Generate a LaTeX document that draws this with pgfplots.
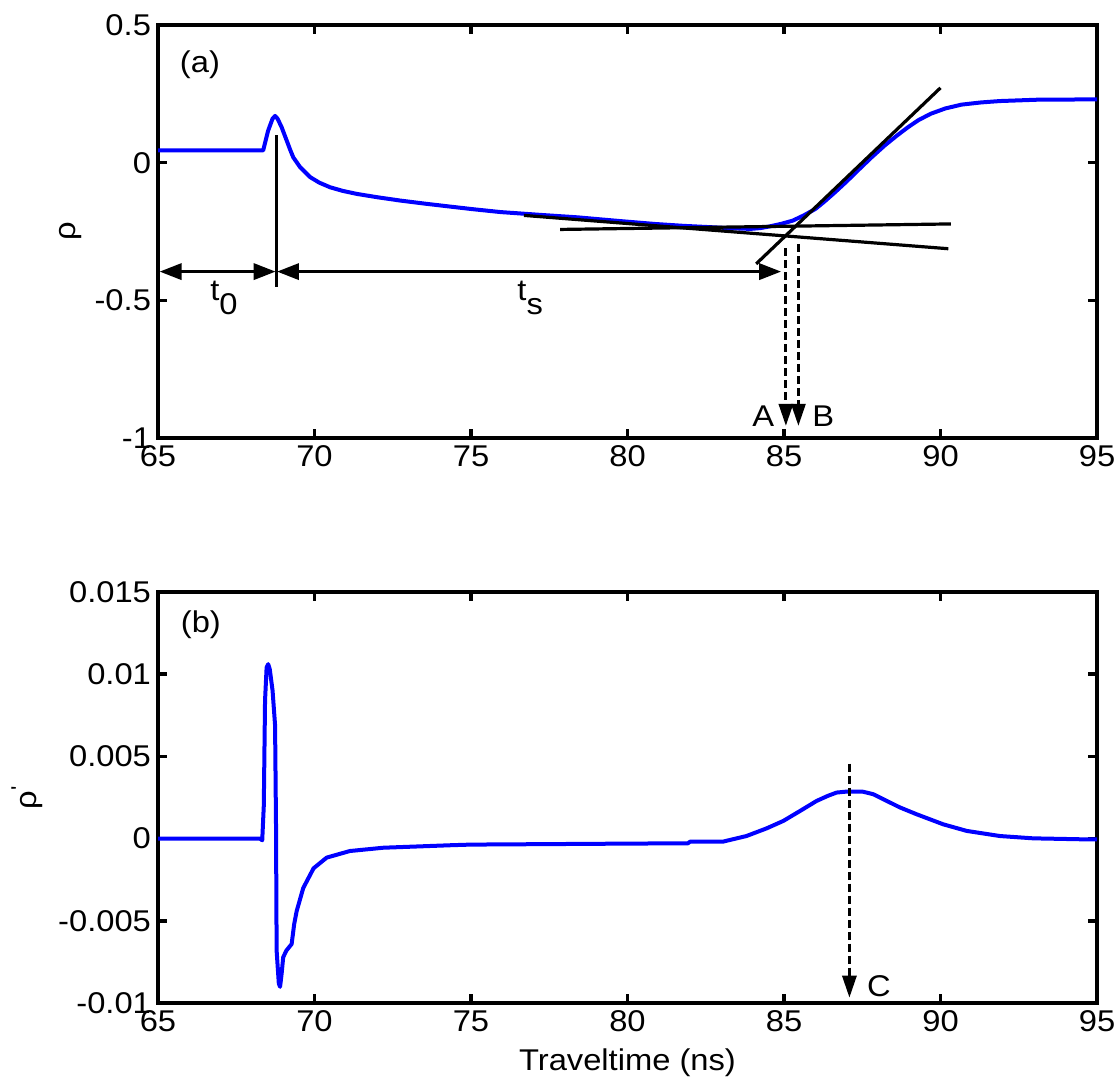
\documentclass[border=0pt]{standalone}
\usepackage{fontspec}
\setmainfont{Liberation Sans}[FakeStretch=1.09]
\usepackage{pgfplots}
\pgfplotsset{compat=1.18}
\usetikzlibrary{arrows.meta}
\definecolor{mblue}{RGB}{0,0,255}

\pgfplotstableread{
x rho
65.00 0.0447
68.36 0.0447
68.52 0.117
68.66 0.160
68.74 0.170
68.82 0.160
68.95 0.129
69.11 0.081
69.22 0.048
69.32 0.020
69.54 -0.016
69.86 -0.052
70.15 -0.072
70.50 -0.089
70.90 -0.102
71.35 -0.113
72.00 -0.125
72.73 -0.137
73.50 -0.148
74.33 -0.159
75.10 -0.169
75.95 -0.179
77.20 -0.189
78.40 -0.198
79.60 -0.210
80.86 -0.222
81.80 -0.229
82.70 -0.234
83.40 -0.238
83.93 -0.240
84.25 -0.237
84.54 -0.231
84.90 -0.222
85.28 -0.210
85.65 -0.190
86.01 -0.167
86.30 -0.140
86.63 -0.107
87.00 -0.068
87.36 -0.028
87.80 0.020
88.22 0.063
88.60 0.098
88.96 0.129
89.30 0.155
89.69 0.178
90.15 0.197
90.67 0.211
91.30 0.219
91.90 0.224
93.13 0.229
95.00 0.230
}\toptable

\pgfplotstableread{
x drho
65.00 0.0
68.26 0.0
68.33 -0.0001
68.38 0.0020
68.42 0.0084
68.47 0.0104
68.52 0.0106
68.57 0.0103
68.66 0.0090
68.74 0.0069
68.77 0.0009
68.79 -0.0068
68.86 -0.0088
68.90 -0.0090
68.95 -0.0082
69.00 -0.0072
69.10 -0.0068
69.27 -0.0064
69.35 -0.0052
69.43 -0.0044
69.64 -0.0030
69.97 -0.0018
70.39 -0.00115
71.13 -0.00075
72.20 -0.00055
74.33 -0.00040
75.00 -0.00036
80.00 -0.00030
81.93 -0.00028
82.00 -0.00018
83.05 -0.00018
83.80 0.00016
84.45 0.00063
84.98 0.00108
85.51 0.00168
86.04 0.00229
86.40 0.00260
86.68 0.00280
87.00 0.00286
87.53 0.00285
87.85 0.00270
88.17 0.00240
88.70 0.00190
89.24 0.00148
90.09 0.00087
90.84 0.00047
91.90 0.00016
92.96 0.00002
94.56 -0.00004
95.00 -0.00005
}\bottable

\begin{document}
\begin{tikzpicture}[font=\fontsize{15}{18}\selectfont]
\path[use as bounding box] (0pt,0pt) rectangle (559pt,542pt);
\pgfplotsset{
  common/.style={
    scale only axis,
    width=469.5pt,
    xmin=65, xmax=95,
    xtick={65,70,75,80,85,90,95},
    xticklabels={65,70,75,80,85,90,95},
    tick align=inside,
    tick pos=both,
    major tick length=4.5pt,
    scaled ticks=false,
    axis line style={line width=2pt},
    tick style={line width=1.7pt, black},
    clip=false,
    /pgf/number format/assume math mode=true,
  }
}
\begin{axis}[common,
  at={(79pt,322.85pt)}, anchor=south west,
  height=206.65pt,
  ymin=-1, ymax=0.5,
  ytick={-1,-0.5,0,0.5},
  yticklabels={-1,-0.5,0,0.5},
  ylabel={ρ},
  ylabel style={at={(axis description cs:-0.0927,0.5)}, anchor=center},
]
\addplot[mblue, line width=2pt, line join=round] table[x=x,y=rho] {\toptable};
\addplot[black, line width=1.6pt] coordinates {(76.69,-0.191) (90.25,-0.312)};
\addplot[black, line width=1.6pt] coordinates {(77.85,-0.242) (90.33,-0.222)};
\addplot[black, line width=1.6pt] coordinates {(84.11,-0.367) (90.00,0.272)};
\addplot[black, line width=1.6pt] coordinates {(68.78,0.10) (68.78,-0.452)};
\draw[line width=1.7pt, {Triangle[length=11pt,width=8pt]}-{Triangle[length=11pt,width=8pt]}] (65.05,-0.395) -- (68.76,-0.395);
\draw[line width=1.7pt, {Triangle[length=11pt,width=8pt]}-{Triangle[length=11pt,width=8pt]}] (68.80,-0.395) -- (84.91,-0.395);
\draw[line width=1.5pt, dash pattern=on 4pt off 2pt, -{Triangle[length=11pt,width=7pt]}] (85.06,-0.311) -- (85.06,-0.955);
\draw[line width=1.5pt, dash pattern=on 4pt off 2pt, -{Triangle[length=11pt,width=7pt]}] (85.46,-0.294) -- (85.46,-0.955);
\node[anchor=base west, inner sep=0pt] at (66.66,-0.50) {t\raisebox{-0.45em}{0}};
\node[anchor=base west, inner sep=0pt] at (76.47,-0.50) {t\raisebox{-0.45em}{s}};
\node[anchor=base east, inner sep=0pt] at (84.70,-0.958) {A};
\node[anchor=base west, inner sep=0pt] at (85.89,-0.958) {B};
\node[anchor=center, inner sep=0pt] at (66.34,0.357) {(a)};
\end{axis}

\begin{axis}[common,
  at={(79pt,40.35pt)}, anchor=south west,
  height=205.8pt,
  ymin=-0.01, ymax=0.015,
  ytick={-0.01,-0.005,0,0.005,0.01,0.015},
  yticklabels={-0.01,-0.005,0,0.005,0.01,0.015},
  ylabel={ρ\textsuperscript{\textquotesingle}},
  ylabel style={at={(axis description cs:-0.1395,0.5)}, anchor=center},
  xlabel={Traveltime (ns)},
  xlabel style={at={(axis description cs:0.5,-0.1638)}, anchor=base},
]
\addplot[mblue, line width=2pt, line join=round] table[x=x,y=drho] {\bottable};
\draw[line width=1.5pt, dash pattern=on 4pt off 2pt, -{Triangle[length=11pt,width=7pt]}] (87.09,0.00456) -- (87.09,-0.00966);
\node[anchor=base west, inner sep=0pt] at (87.64,-0.00956) {C};
\node[anchor=center, inner sep=0pt] at (66.37,0.01298) {(b)};
\end{axis}
\end{tikzpicture}
\end{document}
